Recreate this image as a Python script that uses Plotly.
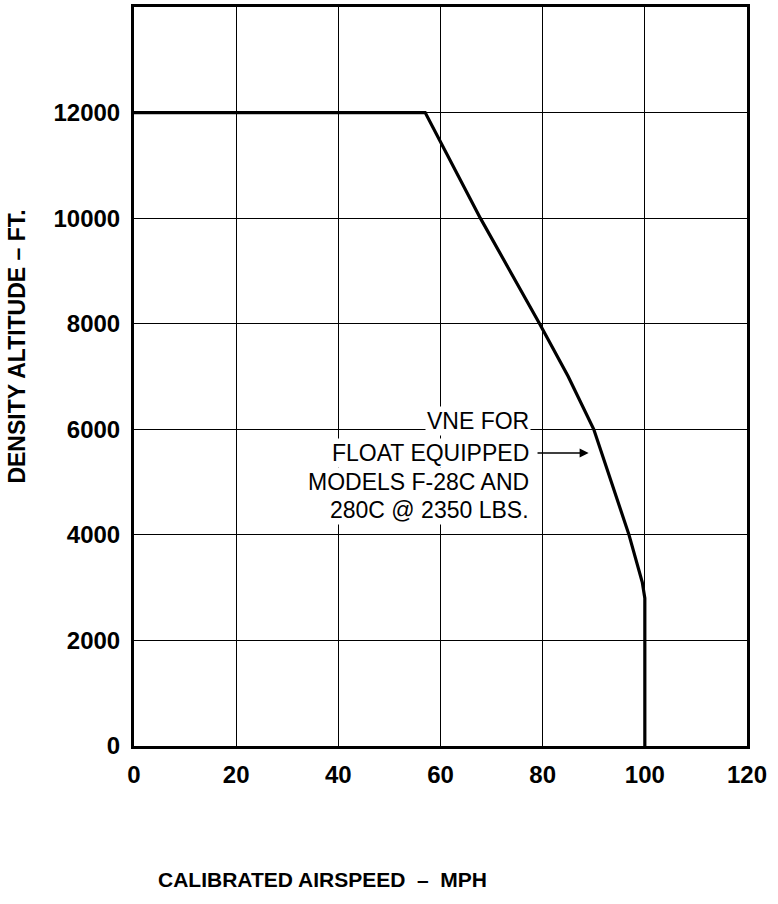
import plotly.graph_objects as go

# Data
airspeed_mph = [0, 57, 67.8, 79.4, 85, 90, 96.9, 99.5, 100, 100]
density_alt_ft = [12000, 12000, 10000, 8000, 7000, 6000, 4000, 3100, 2800, 0]

x_ticks = [0, 20, 40, 60, 80, 100, 120]
y_ticks = [0, 2000, 4000, 6000, 8000, 10000, 12000]

note_lines = ["VNE FOR", "FLOAT EQUIPPED", "MODELS F-28C AND", "280C @ 2350 LBS."]
note_y = [6150, 5550, 5000, 4480]
note_x = 77.7
arrow_tail = (78.7, 5550)
arrow_head = (89.0, 5550)

FONT = "Liberation Sans, Arial, Helvetica, sans-serif"

fig = go.Figure()
fig.add_trace(go.Scatter(
    x=airspeed_mph, y=density_alt_ft, mode="lines",
    line=dict(color="black", width=3.2), showlegend=False, hoverinfo="skip"))

annotations = []
for txt, yy in zip(note_lines, note_y):
    annotations.append(dict(
        x=note_x, y=yy, xref="x", yref="y", text=txt, showarrow=False,
        xanchor="right", yanchor="middle", bgcolor="white", borderpad=1,
        font=dict(family=FONT, size=23, color="black")))

annotations.append(dict(
    x=arrow_head[0], y=arrow_head[1], ax=arrow_tail[0], ay=arrow_tail[1],
    xref="x", yref="y", axref="x", ayref="y", text="", showarrow=True,
    arrowhead=2, arrowsize=1.2, arrowwidth=1.5, arrowcolor="black"))

annotations.append(dict(
    x=322, y=880, xref="paper", yref="paper", text="<b>CALIBRATED AIRSPEED  –  MPH</b>",
    showarrow=False, xanchor="center", yanchor="middle",
    font=dict(family=FONT, size=21, color="black")))

annotations.append(dict(
    x=17, y=345, xref="paper", yref="paper", text="<b>DENSITY ALTITUDE – FT.</b>",
    showarrow=False, xanchor="center", yanchor="middle", textangle=-90,
    font=dict(family=FONT, size=23, color="black")))

# convert pixel positions for paper-ref title annotations
L, R, T, B = 134, 31, 4, 158
W, H = 778, 904
pw, ph = W - L - R, H - T - B
for a in annotations[-2:]:
    a["x"] = (a["x"] - L) / pw
    a["y"] = (H - B - a["y"]) / ph

fig.update_layout(
    width=W, height=H,
    margin=dict(l=L, r=R, t=T, b=B, pad=0),
    paper_bgcolor="white", plot_bgcolor="white",
    font=dict(family=FONT, color="black"),
    annotations=annotations,
    showlegend=False,
)
fig.update_xaxes(
    range=[0, 120], tickvals=x_ticks, ticktext=[f"<b>{v}</b>" for v in x_ticks],
    showgrid=True, gridcolor="black", gridwidth=1.2, zeroline=False,
    showline=True, linecolor="black", linewidth=3, mirror=True,
    ticks="", tickfont=dict(family=FONT, size=24, color="black"),
    ticklabelstandoff=5, fixedrange=True)
fig.update_yaxes(
    range=[0, 14000], tickvals=y_ticks, ticktext=[f"<b>{v}</b>" for v in y_ticks],
    showgrid=True, gridcolor="black", gridwidth=1.2, zeroline=False,
    showline=True, linecolor="black", linewidth=3, mirror=True,
    ticks="", tickfont=dict(family=FONT, size=24, color="black"),
    ticklabelstandoff=6, fixedrange=True)

fig.write_html("out.html")
